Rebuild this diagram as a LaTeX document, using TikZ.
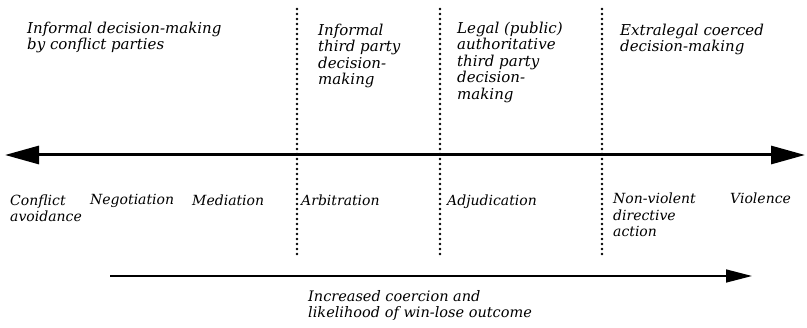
\documentclass[tikz,border=0pt]{standalone}
\usepackage{fontspec}
\setmainfont{DejaVu Serif}
\usetikzlibrary{arrows.meta}

\tikzset{
  phase/.style={anchor=north west,align=left,inner sep=0pt,font=\fontsize{15}{16.5}\selectfont\itshape},
  method/.style={anchor=north west,align=left,inner sep=0pt,font=\fontsize{14}{16.5}\selectfont\itshape},
  divider/.style={line width=2.9pt,dash pattern=on 0pt off 5pt,line cap=round},
}

\begin{document}
\begin{tikzpicture}[x=1pt,y=-1pt]
\useasboundingbox (0,0) rectangle (807,328);

% Main scale
\coordinate (west) at (5,155);
\coordinate (east) at (805,155);
\draw[line width=3pt,{Triangle[length=34pt,width=18pt]}-{Triangle[length=34pt,width=18pt]}] (west) -- (east);

% Dotted dividers
\foreach \x/\name in {297/one,440/two,602/three} {
  \coordinate (\name-top) at (\x,9);
  \coordinate (\name-bot) at (\x,254);
  \draw[divider] (\name-top) -- (\name-bot);
}

% Decision-making categories
\node[phase] (parties) at (27,21.6) {Informal decision-making\\by conflict parties};
\node[phase] (informal) at (318,23.6) {Informal\\third party\\decision-\\making};
\node[phase] (legal) at (457,21.6) {Legal (public)\\authoritative\\third party\\decision-\\making};
\node[phase] (extralegal) at (620,23.6) {Extralegal coerced\\decision-making};

% Methods along the scale
\node[method] (avoid) at (10,194.4) {Conflict\\avoidance};
\node[method] (nego) at (90,194.4) {Negotiation};
\node[method] (media) at (192,194.4) {Mediation};
\node[method] (arbit) at (301,194.4) {Arbitration};
\node[method] (adjud) at (447,194.4) {Adjudication};
\node[method] (nonviol) at (613,193) {Non-violent\\directive\\action};
\node[method] (viol) at (730,193) {Violence};

% Coercion arrow
\coordinate (low) at (110,276);
\coordinate (high) at (752,276);
\draw[line width=1.5pt,-{Triangle[length=26pt,width=13pt]}] (low) -- (high);
\node[anchor=north west,align=left,inner sep=0pt,font=\fontsize{14.5}{16}\selectfont\itshape] (coercion) at (308,290) {Increased coercion and\\likelihood of win-lose outcome};
\end{tikzpicture}
\end{document}
